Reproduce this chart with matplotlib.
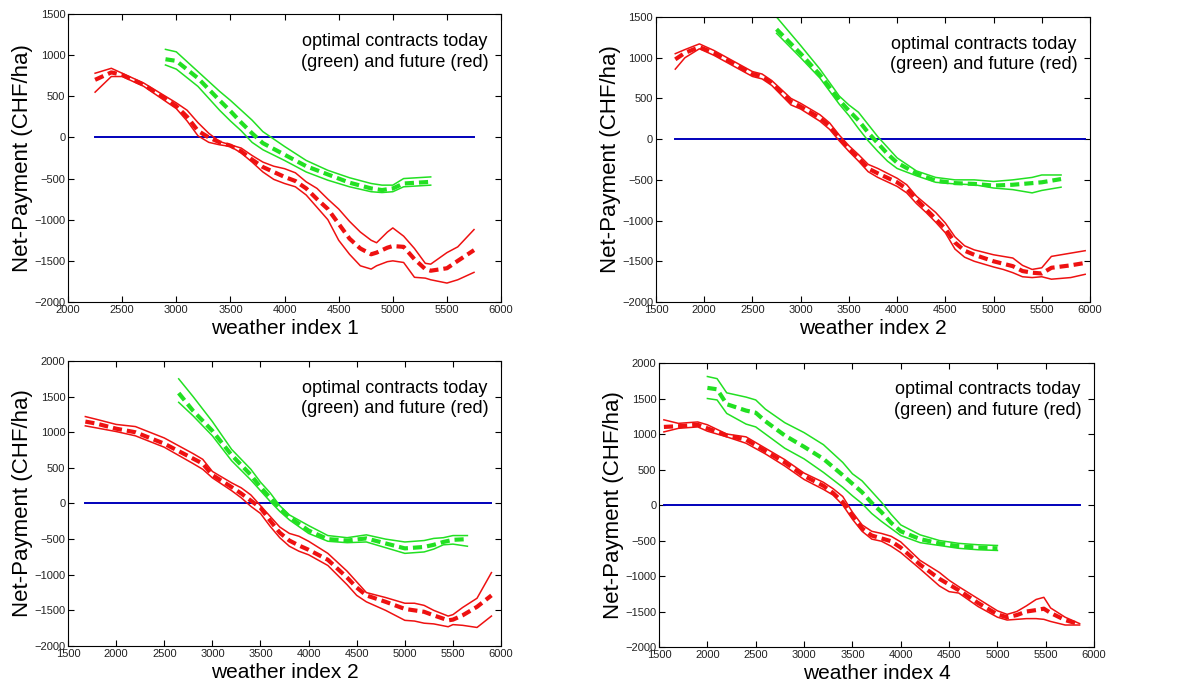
import numpy as np
import matplotlib.pyplot as plt

plt.rcParams['font.family'] = ['Liberation Sans', 'DejaVu Sans']

RED = '#ee1111'
GREEN = '#22e022'
BLUE = '#0000bb'

# ---------- painel 1 (weather index 1) ----------
p1_red_x = [2250, 2400, 2500, 2700, 2900, 3000, 3100, 3200, 3300, 3400, 3500, 3600, 3700, 3800, 3900, 4000,
            4100, 4200, 4300, 4400, 4500, 4600, 4700, 4800, 4850, 4950, 5000, 5100, 5200, 5300, 5350, 5500, 5600, 5750]
p1_red_up = [780, 840, 780, 660, 500, 420, 330, 180, 50, -50, -90, -130, -220, -300, -350, -380,
             -430, -540, -620, -750, -870, -1020, -1150, -1250, -1280, -1150, -1100, -1200, -1350, -1530, -1540, -1400, -1330, -1120]
p1_red_mid = [700, 790, 760, 640, 470, 380, 250, 80, 0, -60, -100, -170, -270, -360, -420, -480,
              -530, -620, -750, -870, -1050, -1230, -1350, -1420, -1400, -1340, -1320, -1330, -1480, -1600, -1620, -1590, -1500, -1370]
p1_red_low = [550, 740, 740, 620, 440, 350, 200, 20, -60, -90, -110, -190, -300, -420, -510, -560,
              -600, -700, -850, -1000, -1250, -1420, -1560, -1600, -1560, -1510, -1500, -1520, -1700, -1710, -1730, -1770, -1730, -1640]
p1_green_x = [2900, 3000, 3200, 3400, 3500, 3600, 3700, 3800, 4000, 4200, 4400, 4600, 4800, 4900, 5000, 5100, 5350]
p1_green_up = [1070, 1040, 800, 560, 450, 330, 210, 70, -110, -280, -400, -490, -560, -580, -580, -500, -480]
p1_green_mid = [950, 930, 720, 450, 320, 180, 50, -70, -210, -350, -450, -550, -620, -640, -620, -560, -540]
p1_green_low = [880, 830, 620, 330, 200, 80, -60, -150, -280, -420, -520, -600, -660, -670, -660, -600, -580]
p1_zero_x = [2250, 5750]

# ---------- painel 2 (weather index 2) ----------
p2_red_x = [1700, 1800, 1950, 2100, 2300, 2500, 2600, 2700, 2900, 3000, 3200, 3300, 3400, 3500, 3600, 3700, 3800,
            4000, 4100, 4200, 4300, 4400, 4500, 4600, 4700, 4800, 5000, 5100, 5200, 5300, 5400, 5500, 5600, 5800, 5950]
p2_red_up = [1050, 1100, 1170, 1090, 960, 830, 800, 720, 500, 440, 300, 200, 50, -80, -190, -310, -360,
             -480, -560, -700, -800, -900, -1030, -1200, -1310, -1360, -1420, -1440, -1460, -1550, -1600, -1580, -1440, -1400, -1370]
p2_red_mid = [980, 1060, 1130, 1060, 930, 800, 770, 690, 460, 400, 260, 160, 20, -120, -230, -360, -420,
              -530, -610, -740, -860, -980, -1100, -1270, -1370, -1420, -1500, -1530, -1560, -1620, -1640, -1650, -1580, -1550, -1520]
p2_red_low = [860, 1000, 1110, 1030, 900, 770, 740, 660, 420, 370, 220, 120, -20, -150, -270, -400, -470,
              -580, -660, -790, -900, -1020, -1150, -1350, -1450, -1500, -1570, -1600, -1640, -1690, -1700, -1690, -1720, -1700, -1660]
p2_green_x = [2750, 3000, 3200, 3400, 3500, 3600, 3700, 3800, 3900, 4000, 4200, 4400, 4600, 4800, 5000, 5200, 5400, 5500, 5700]
p2_green_up = [1500, 1150, 860, 530, 420, 330, 180, 30, -100, -230, -390, -470, -500, -500, -520, -500, -470, -440, -440]
p2_green_mid = [1350, 1050, 790, 480, 350, 230, 80, -50, -180, -290, -420, -510, -540, -550, -570, -560, -540, -530, -490]
p2_green_low = [1300, 1000, 750, 430, 290, 130, -20, -150, -270, -360, -450, -530, -550, -560, -600, -620, -660, -630, -590]
p2_zero_x = [1700, 5950]

# ---------- painel 3 (weather index 2) ----------
p3_red_x = [1680, 1800, 2000, 2200, 2500, 2800, 2900, 3000, 3200, 3300, 3400, 3500, 3600, 3700, 3800, 3900, 4000,
            4200, 4400, 4500, 4600, 4800, 5000, 5100, 5200, 5300, 5450, 5500, 5600, 5750, 5900]
p3_red_up = [1220, 1180, 1110, 1080, 920, 700, 620, 450, 290, 220, 120, -30, -180, -330, -420, -460, -530,
             -700, -950, -1100, -1250, -1320, -1400, -1400, -1430, -1500, -1580, -1560, -1460, -1330, -970]
p3_red_mid = [1150, 1120, 1050, 1000, 840, 630, 560, 400, 230, 140, 40, -60, -240, -410, -520, -590, -650,
              -790, -1040, -1180, -1290, -1380, -1480, -1500, -1520, -1570, -1640, -1630, -1570, -1450, -1290]
p3_red_low = [1090, 1060, 1010, 950, 790, 560, 480, 360, 180, 80, -40, -140, -320, -480, -600, -670, -720,
              -870, -1140, -1290, -1380, -1500, -1640, -1650, -1680, -1690, -1730, -1700, -1710, -1740, -1580]
p3_green_x = [2650, 2800, 3000, 3200, 3400, 3500, 3600, 3700, 3800, 4000, 4200, 4400, 4600, 4800, 5000, 5200, 5300, 5400, 5500, 5650]
p3_green_up = [1750, 1500, 1150, 760, 480, 300, 150, -30, -160, -310, -450, -480, -440, -500, -540, -520, -490, -480, -450, -450]
p3_green_mid = [1550, 1300, 1020, 680, 400, 230, 80, -60, -190, -380, -500, -520, -490, -560, -630, -610, -580, -540, -510, -500]
p3_green_low = [1420, 1230, 950, 600, 330, 180, 30, -110, -230, -420, -530, -550, -540, -620, -700, -680, -640, -580, -570, -600]
p3_zero_x = [1680, 5900]

# ---------- painel 4 (weather index 4) ----------
p4_red_x = [1550, 1700, 1900, 2000, 2200, 2400, 2600, 2800, 3000, 3200, 3300, 3400, 3500, 3600, 3700, 3800, 3900, 4000,
            4200, 4400, 4500, 4600, 4800, 5000, 5100, 5200, 5300, 5400, 5480, 5550, 5700, 5850]
p4_red_up = [1200, 1150, 1170, 1130, 1000, 960, 800, 640, 450, 320, 230, 120, -100, -280, -370, -400, -440, -520,
             -780, -950, -1060, -1150, -1320, -1490, -1540, -1500, -1420, -1330, -1300, -1450, -1580, -1670]
p4_red_mid = [1100, 1110, 1130, 1080, 980, 920, 760, 600, 410, 270, 170, 40, -150, -330, -430, -470, -510, -600,
              -840, -1040, -1120, -1200, -1380, -1540, -1580, -1550, -1500, -1480, -1460, -1520, -1620, -1680]
p4_red_low = [1030, 1080, 1100, 1040, 960, 870, 720, 550, 360, 220, 140, 0, -200, -370, -480, -510, -580, -670,
              -900, -1140, -1220, -1240, -1430, -1580, -1620, -1610, -1600, -1600, -1610, -1640, -1690, -1690]
p4_green_x = [2000, 2100, 2200, 2400, 2500, 2600, 2800, 3000, 3200, 3400, 3500, 3600, 3700, 3800, 3900, 4000, 4200, 4400, 4600, 4800, 5000]
p4_green_up = [1810, 1780, 1580, 1520, 1480, 1350, 1160, 1020, 850, 600, 440, 340, 190, 40, -130, -280, -420, -500, -540, -560, -570]
p4_green_mid = [1650, 1630, 1420, 1330, 1300, 1180, 980, 820, 650, 420, 300, 180, 30, -100, -250, -370, -480, -540, -580, -600, -610]
p4_green_low = [1500, 1480, 1290, 1140, 1100, 1000, 800, 650, 460, 250, 130, 20, -120, -230, -330, -430, -530, -570, -610, -630, -640]
p4_zero_x = [1550, 5850]

xlabels = ['weather index 1', 'weather index 2', 'weather index 2', 'weather index 4']
xlims = [(2000, 6000), (1500, 6000), (1500, 6000), (1500, 6000)]
ylims = [(-2000, 1500), (-2000, 1500), (-2000, 2000), (-2000, 2000)]

paineis = [
    (p1_red_x, p1_red_up, p1_red_mid, p1_red_low, p1_green_x, p1_green_up, p1_green_mid, p1_green_low, p1_zero_x),
    (p2_red_x, p2_red_up, p2_red_mid, p2_red_low, p2_green_x, p2_green_up, p2_green_mid, p2_green_low, p2_zero_x),
    (p3_red_x, p3_red_up, p3_red_mid, p3_red_low, p3_green_x, p3_green_up, p3_green_mid, p3_green_low, p3_zero_x),
    (p4_red_x, p4_red_up, p4_red_mid, p4_red_low, p4_green_x, p4_green_up, p4_green_mid, p4_green_low, p4_zero_x),
]

# posicoes dos eixos (left, bottom, width, height) em fracao da figura
posicoes = [
    [0.0577, 0.5636, 0.3673, 0.4162],
    [0.5564, 0.5636, 0.3681, 0.4118],
    [0.0577, 0.0665, 0.3673, 0.4118],
    [0.5590, 0.0650, 0.3690, 0.4104],
]

fig = plt.figure(figsize=(11.79, 6.92), dpi=100)

for i, dados in enumerate(paineis):
    rx, rup, rmid, rlow, gx, gup, gmid, glow, zx = dados
    ax = fig.add_axes(posicoes[i])

    # linha do zero
    ax.plot(zx, [0, 0], color=BLUE, lw=1.4)

    # contratos futuros (vermelho)
    ax.plot(rx, rup, color=RED, lw=1.1)
    ax.plot(rx, rlow, color=RED, lw=1.1)
    ax.plot(rx, rmid, color=RED, lw=3.0, dashes=(2.2, 1.2))

    # contratos de hoje (verde)
    ax.plot(gx, gup, color=GREEN, lw=1.1)
    ax.plot(gx, glow, color=GREEN, lw=1.1)
    ax.plot(gx, gmid, color=GREEN, lw=3.0, dashes=(2.2, 1.2))

    ax.set_xlim(xlims[i])
    ax.set_ylim(ylims[i])
    ax.set_xticks(np.arange(xlims[i][0], xlims[i][1] + 1, 500))
    ax.set_yticks(np.arange(ylims[i][0], ylims[i][1] + 1, 500))
    ax.tick_params(direction='in', top=True, right=True, length=4, width=0.8,
                   labelsize=8, labelcolor='#222222', pad=2)
    for s in ax.spines.values():
        s.set_linewidth(0.8)

    ax.set_xlabel(xlabels[i], fontsize=15, labelpad=3)
    ax.set_ylabel('Net-Payment (CHF/ha)', fontsize=16, labelpad=1)

    ax.text(0.755, 0.935, 'optimal contracts today\n(green) and future (red)',
            transform=ax.transAxes, ha='center', va='top', multialignment='center',
            fontsize=13, linespacing=1.3)

fig.savefig('out.png', dpi=100)
